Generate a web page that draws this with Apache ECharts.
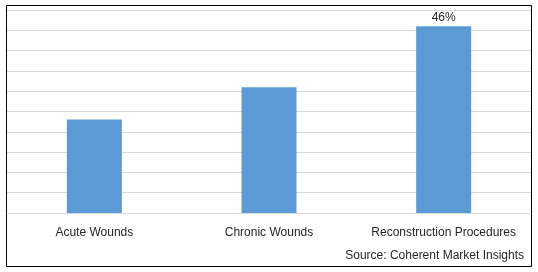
<!DOCTYPE html>
<html><head><meta charset="utf-8">
<script src="https://cdn.jsdelivr.net/npm/echarts@6/dist/echarts.min.js"></script>
<style>html,body{margin:0;padding:0;background:#fff}#c{width:538px;height:272px}</style>
</head><body><div id="c"></div>
<script>
var categories = ['Acute Wounds', 'Chronic Wounds', 'Reconstruction Procedures'];
var values = [23, 31, 46];
var labelShown = [false, false, true];
var yTicks = {min: 0, max: 50, interval: 5};

var chart = echarts.init(document.getElementById('c'), null, {renderer: 'canvas'});
var font = '"Liberation Sans", Arial, sans-serif';
chart.setOption({
  animation: false,
  backgroundColor: '#fff',
  grid: {left: 7, right: 7, top: 10, bottom: 59, containLabel: false},
  xAxis: {
    type: 'category', data: categories,
    axisLine: {lineStyle: {color: '#d9d9d9', width: 1}},
    axisTick: {show: false},
    axisLabel: {interval: 0, hideOverlap: false, color: '#262626', fontFamily: font, fontSize: 12, margin: 14}
  },
  yAxis: {
    type: 'value', min: yTicks.min, max: yTicks.max, interval: yTicks.interval,
    axisLabel: {show: false}, axisLine: {show: false}, axisTick: {show: false},
    splitLine: {lineStyle: {color: '#d9d9d9', width: 1}}
  },
  series: [{
    type: 'bar', barCategoryGap: '68.5%',
    data: values.map(function (v, i) {
      return {value: v, label: {show: labelShown[i]}};
    }),
    itemStyle: {color: '#5b9bd5'},
    label: {position: 'top', distance: 3, color: '#262626', fontFamily: font, fontSize: 12,
      formatter: function (p) { return p.value + '%'; }}
  }],
  graphic: [
    {type: 'rect', shape: {x: 6.5, y: 5.5, width: 525, height: 261}, style: {fill: null, stroke: '#000', lineWidth: 1}, silent: true},
    {type: 'text', right: 14, top: 250, style: {text: 'Source: Coherent Market Insights', fill: '#262626', font: '12px ' + font}}
  ]
});
</script></body></html>
